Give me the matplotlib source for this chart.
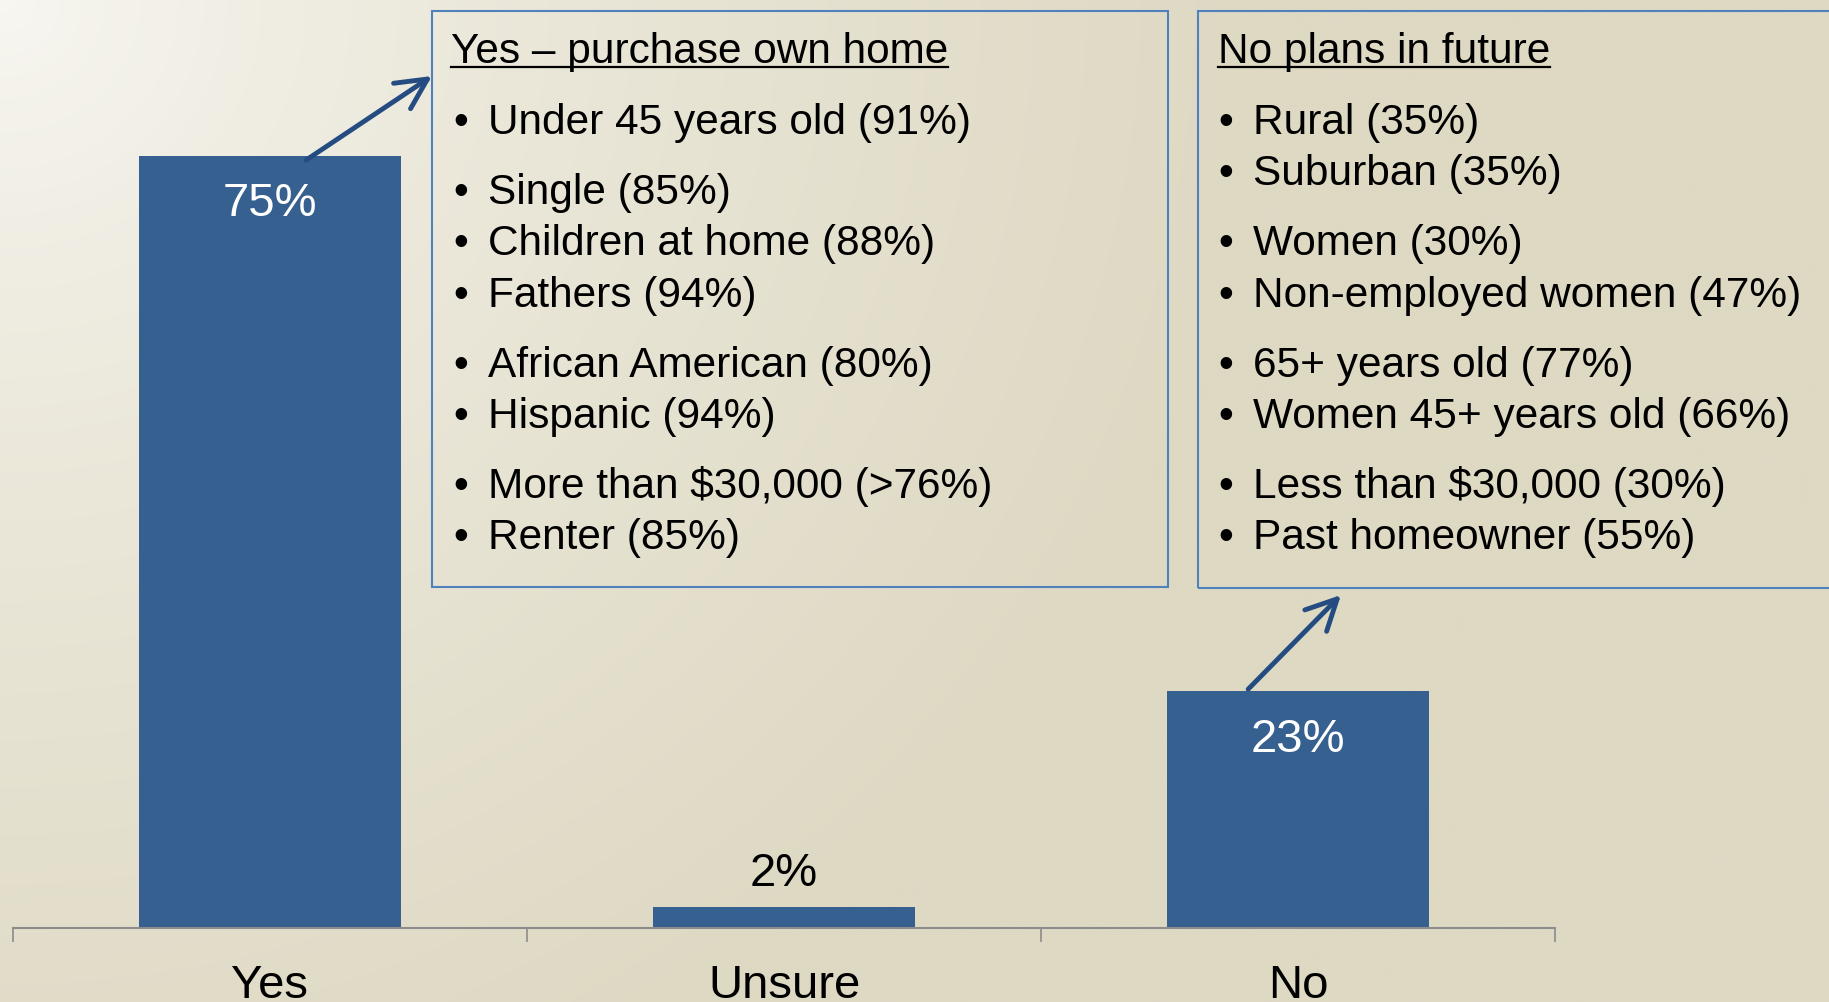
import numpy as np
import matplotlib
matplotlib.use("Agg")
import matplotlib.pyplot as plt
from matplotlib.patches import Rectangle
from matplotlib.lines import Line2D

categories = ["Yes", "Unsure", "No"]
values = [75, 2, 23]
value_labels = ["75%", "2%", "23%"]

yes_title = "Yes \u2013 purchase own home"
yes_groups = [
    ["Under 45 years old (91%)"],
    ["Single (85%)", "Children at home (88%)", "Fathers (94%)"],
    ["African American (80%)", "Hispanic (94%)"],
    ["More than $30,000 (>76%)", "Renter (85%)"],
]
no_title = "No plans in future"
no_groups = [
    ["Rural (35%)", "Suburban (35%)"],
    ["Women (30%)", "Non-employed women (47%)"],
    ["65+ years old (77%)", "Women 45+ years old (66%)"],
    ["Less than $30,000 (30%)", "Past homeowner (55%)"],
]

W, H = 1829, 1003
BAR = "#36608f"
BORDER = "#4f81bd"
ARROW = "#244c81"

plt.rcParams["font.family"] = ["Liberation Sans", "DejaVu Sans"]

fig = plt.figure(figsize=(W / 100, H / 100), dpi=100)


def fx(x):
    return x / W


def fy(y):
    return 1 - y / H


# background gradient, light in the top-left corner
bg = fig.add_axes([0, 0, 1, 1], zorder=-10)
yy, xx = np.mgrid[0:H:4, 0:W:4]
t = np.clip(np.hypot(xx, yy * 1.05) / 1250, 0, 1) ** 0.75
light = np.array([248, 247, 242]) / 255
dark = np.array([222, 217, 195]) / 255
img = light[None, None, :] * (1 - t[..., None]) + dark[None, None, :] * t[..., None]
bg.imshow(img, aspect="auto", extent=[0, 1, 0, 1], interpolation="bilinear")
bg.axis("off")

# main bar chart
base = 929
px_per_pct = (base - 157) / 75
ax = fig.add_axes([fx(13), (H - base) / H, 1542 / W, base / H])
ax.patch.set_alpha(0)
ax.bar(range(len(values)), values, width=0.51, color=BAR, zorder=2)
ax.set_xlim(-0.5, len(values) - 0.5)
ax.set_ylim(0, base / px_per_pct)
for s in ["top", "left", "right"]:
    ax.spines[s].set_visible(False)
ax.spines["bottom"].set_color("#8c8c8c")
ax.spines["bottom"].set_linewidth(1.5)
ax.set_yticks([])
ax.set_xticks(range(len(categories)))
ax.set_xticklabels(categories, fontsize=34)
ax.set_xticks(np.arange(-0.5, len(categories)), minor=True)
ax.tick_params(axis="x", which="major", length=0, pad=25)
ax.tick_params(axis="x", which="minor", length=10, width=1.2, color="#8c8c8c", direction="out")

for i, (v, lab) in enumerate(zip(values, value_labels)):
    if v > 10:
        ax.text(i, v - 4.6, lab, ha="center", va="center", color="white", fontsize=34)
    else:
        ax.text(i, v + 3.3, lab, ha="center", va="center", color="black", fontsize=34)

# callout boxes
fig.patches.append(Rectangle((fx(432), fy(588)), (1168 - 432) / W, (588 - 12) / H,
                             transform=fig.transFigure, fill=False, edgecolor=BORDER, lw=1.5))
fig.patches.append(Rectangle((fx(1198), fy(589)), (1900 - 1198) / W, (589 - 12) / H,
                             transform=fig.transFigure, fill=False, edgecolor=BORDER, lw=1.5))

FS = 30.5
step, gap = 51.3, 70


def callout(title, groups, x_title, x_bullet, x_text):
    t = fig.text(fx(x_title), fy(63), title, fontsize=FS, va="baseline", ha="left")
    y = 134
    first = True
    for g in groups:
        for j, line in enumerate(g):
            if not first:
                y += gap if j == 0 else step
            first = False
            fig.text(fx(x_bullet), fy(y), "\u2022", fontsize=FS, va="baseline", ha="left")
            fig.text(fx(x_text), fy(y), line, fontsize=FS, va="baseline", ha="left")
    return t


t1 = callout(yes_title, yes_groups, 451, 453, 488)
t2 = callout(no_title, no_groups, 1218, 1218, 1253)

# underline headers
fig.canvas.draw()
r = fig.canvas.get_renderer()
for t in (t1, t2):
    bb = t.get_window_extent(r)
    fig.add_artist(Line2D([bb.x0 / W, bb.x1 / W], [fy(68), fy(68)],
                          transform=fig.transFigure, color="black", lw=1.6))

# arrows from bars to boxes
arrow = dict(arrowstyle="->,head_length=1.0,head_width=0.5", color=ARROW, lw=3.5,
             shrinkA=0, shrinkB=0, mutation_scale=22, capstyle="round", joinstyle="round")
ax.annotate("", xy=(432, H - 77), xycoords="figure pixels",
            xytext=(0.07, 74.6), textcoords="data", arrowprops=arrow)
ax.annotate("", xy=(1341, H - 596), xycoords="figure pixels",
            xytext=(1.903, 23.2), textcoords="data", arrowprops=arrow)

fig.savefig("out.png", dpi=100)
